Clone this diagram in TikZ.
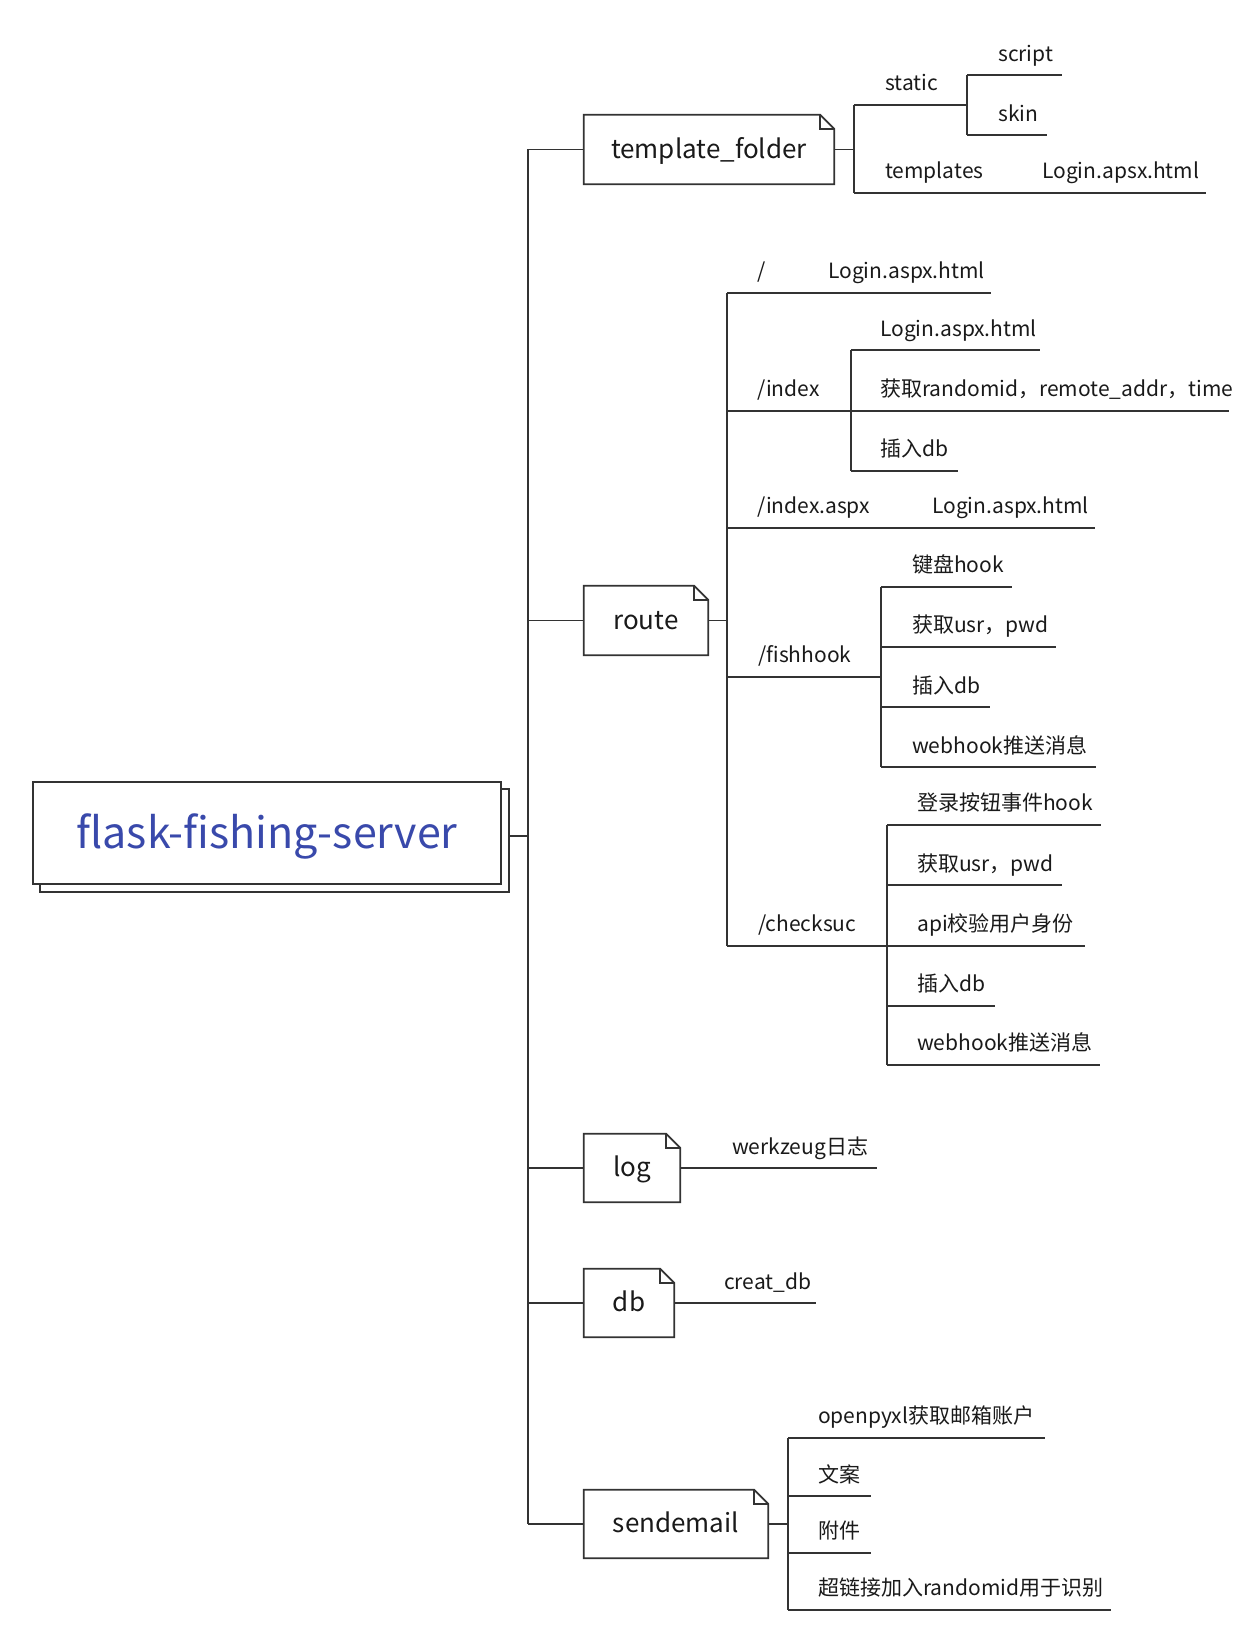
\documentclass[tikz,border=0pt]{standalone}
\usepackage{fontspec}
\setmainfont{Noto Sans CJK SC}
\usetikzlibrary{calc}
\definecolor{linec}{HTML}{333333}
\definecolor{txt}{HTML}{1A1A1A}
\definecolor{mainblue}{HTML}{3949AB}
\tikzset{
  ln/.style={draw=linec, line width=1.7pt},
  lbl/.style={anchor=west, inner sep=0pt, yshift=-5pt, text height=.88em, text depth=.12em, text=txt, font=\fontsize{21}{25}\selectfont},
  boxn/.style={inner sep=0pt, text=txt, font=\fontsize{26}{31}\selectfont, text height=.88em, text depth=.12em},
  boxt/.style={yshift=-5pt, inner sep=0pt, text=txt, font=\fontsize{26}{31}\selectfont, text height=.88em, text depth=.12em},
}
\newcommand\notebox[2]{%
  \draw[ln] (#1.north west) -- ([xshift=-14pt]#1.north east) -- ([yshift=-14pt]#1.north east) -- (#1.south east) -- (#1.south west) -- cycle;
  \draw[ln] ([xshift=-14pt]#1.north east) |- ([yshift=-14pt]#1.north east);
  \node[boxt] (#1-t) at (#1.center) {#2};}
\begin{document}
\begin{tikzpicture}[x=1pt,y=-1pt]
\useasboundingbox[fill=white] (0,0) rectangle (1256,1632);
% main box
\node[draw=linec, line width=1.8pt, fill=white, minimum width=468pt, minimum height=102pt, inner sep=0pt] (m) at (267,833) {};
\node[inner sep=0pt, yshift=-3pt, text=mainblue, font=\fontsize{43}{50}\selectfont] (mt) at (m.center) {flask-fishing-server};
\draw[ln, line width=1.8pt] ([yshift=-8pt]m.north east) -- ([xshift=7pt,yshift=-8pt]m.north east)
   -- ([xshift=7pt,yshift=-7pt]m.south east) -- ([xshift=8pt,yshift=-7pt]m.south west) -- ([xshift=8pt]m.south west);
\coordinate (shr) at ([xshift=7pt]m.east);
\coordinate (mc) at (528,836);
\draw[ln] (shr |- mc) -- (mc);
% level-1 boxes
\node[minimum width=250pt, minimum height=69pt, inner sep=0pt] (tf) at (709,149.5) {};
\node[minimum width=124pt, minimum height=69pt, inner sep=0pt] (route) at (646,620.5) {};
\node[minimum width=96pt, minimum height=68pt, inner sep=0pt] (log) at (632,1168) {};
\node[minimum width=90pt, minimum height=68pt, inner sep=0pt] (db) at (629,1303) {};
\node[minimum width=184pt, minimum height=68pt, inner sep=0pt] (send) at (676,1524) {};
\notebox{tf}{template\_folder}
\notebox{route}{route}
\notebox{log}{log}
\notebox{db}{db}
\notebox{send}{sendemail}
% trunk
\coordinate (T) at (528,0);
\draw[ln] (tf.west -| T) -- (send.west -| T);
\foreach \b in {tf,route,log,db,send} \draw[ln] (\b.west -| T) -- (\b.west);
% template_folder children
\coordinate (tfj) at (854,149.5);
\coordinate (tfv1) at (854,105); \coordinate (tfv2) at (854,193);
\draw[ln] (tf.east) -- (tfj);
\draw[ln] (tfv1) -- (tfv2);
\coordinate (stj) at (967,105);
\coordinate (stv1) at (967,75); \coordinate (stv2) at (967,135);
\coordinate (scriptE) at (1062,75); \coordinate (skinE) at (1047,135);
\coordinate (tplE) at (1206,193);
\draw[ln] (tfv1) -- (stj);
\draw[ln] (stv1) -- (stv2);
\draw[ln] (stv1) -- (scriptE);
\draw[ln] (stv2) -- (skinE);
\draw[ln] (tfv2) -- (tplE);
\node[lbl] (l-static) at (885,82) {static};
\node[lbl] (l-script) at (998,53) {script};
\node[lbl] (l-skin) at (998,113) {skin};
\node[lbl] (l-tpl) at (885,170) {templates};
\node[lbl] (l-tplh) at (1042,170) {Login.apsx.html};
% route children
\coordinate (rj) at (727,620.5);
\coordinate (rv1) at (727,293); \coordinate (rv2) at (727,946);
\draw[ln] (route.east) -- (rj);
\draw[ln] (rv1) -- (rv2);
% /
\coordinate (r1E) at (991,293);
\draw[ln] (rv1) -- (r1E);
\node[lbl] (l-root) at (757,270) {/};
\node[lbl] (l-rooth) at (828,270) {Login.aspx.html};
% /index
\coordinate (r2) at (727,411); \coordinate (r2E) at (1229,411);
\coordinate (iv1) at (851,350); \coordinate (iv2) at (851,471);
\coordinate (i1E) at (1040,350); \coordinate (i3E) at (958,471);
\draw[ln] (r2) -- (r2E);
\draw[ln] (iv1) -- (iv2);
\draw[ln] (iv1) -- (i1E);
\draw[ln] (iv2) -- (i3E);
\node[lbl] (l-index) at (757,388) {/index};
\node[lbl] (l-i1) at (880,328) {Login.aspx.html};
\node[lbl] (l-i2) at (880,388) {获取randomid，remote\_addr，time};
\node[lbl] (l-i3) at (880,448) {插入db};
% /index.aspx
\coordinate (r3) at (727,528); \coordinate (r3E) at (1095,528);
\draw[ln] (r3) -- (r3E);
\node[lbl] (l-ia) at (757,505) {/index.aspx};
\node[lbl] (l-iah) at (932,505) {Login.aspx.html};
% /fishhook
\coordinate (r4) at (727,677); \coordinate (fj) at (881,677);
\coordinate (fv1) at (881,587); \coordinate (fv2) at (881,767);
\coordinate (f2) at (881,647); \coordinate (f3) at (881,707);
\draw[ln] (r4) -- (fj);
\draw[ln] (fv1) -- (fv2);
\draw[ln] (fv1) -- (1012,587);
\draw[ln] (f2) -- (1056,647);
\draw[ln] (f3) -- (990,707);
\draw[ln] (fv2) -- (1096,767);
\node[lbl] (l-fish) at (758,654) {/fishhook};
\node[lbl] (l-f1) at (912,564) {键盘hook};
\node[lbl] (l-f2) at (912,624) {获取usr，pwd};
\node[lbl] (l-f3) at (912,685) {插入db};
\node[lbl] (l-f4) at (912,745) {webhook推送消息};
% /checksuc
\coordinate (cj) at (887,946);
\coordinate (cv1) at (887,825); \coordinate (cv2) at (887,1065);
\coordinate (c2) at (887,885); \coordinate (c4) at (887,1006);
\draw[ln] (rv2) -- (cj);
\draw[ln] (cv1) -- (cv2);
\draw[ln] (cv1) -- (1101,825);
\draw[ln] (c2) -- (1062,885);
\draw[ln] (cj) -- (1085,946);
\draw[ln] (c4) -- (995,1006);
\draw[ln] (cv2) -- (1100,1065);
\node[lbl] (l-chk) at (758,923) {/checksuc};
\node[lbl] (l-c1) at (917,802) {登录按钮事件hook};
\node[lbl] (l-c2) at (917,863) {获取usr，pwd};
\node[lbl] (l-c3) at (917,923) {api校验用户身份};
\node[lbl] (l-c4) at (917,983) {插入db};
\node[lbl] (l-c5) at (917,1042) {webhook推送消息};
% log
\coordinate (logE) at (877,1168);
\draw[ln] (log.east) -- (logE);
\node[lbl] (l-log) at (732,1146) {werkzeug日志};
% db
\coordinate (dbE) at (816,1303);
\draw[ln] (db.east) -- (dbE);
\node[lbl] (l-db) at (724,1281) {creat\_db};
% sendemail
\coordinate (sj) at (788,1524);
\coordinate (sv1) at (788,1438); \coordinate (sv2) at (788,1610);
\coordinate (s2) at (788,1496); \coordinate (s3) at (788,1553);
\draw[ln] (send.east) -- (sj);
\draw[ln] (sv1) -- (sv2);
\draw[ln] (sv1) -- (1045,1438);
\draw[ln] (s2) -- (871,1496);
\draw[ln] (s3) -- (871,1553);
\draw[ln] (sv2) -- (1111,1610);
\node[lbl] (l-s1) at (818,1415) {openpyxl获取邮箱账户};
\node[lbl] (l-s2) at (818,1474) {文案};
\node[lbl] (l-s3) at (818,1530) {附件};
\node[lbl] (l-s4) at (818,1587) {超链接加入randomid用于识别};
\end{tikzpicture}
\end{document}
